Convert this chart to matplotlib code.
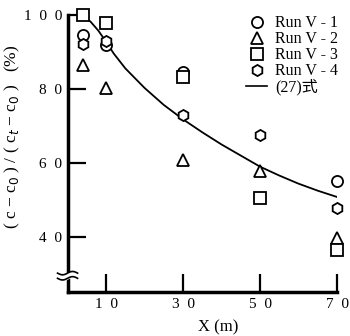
import matplotlib
matplotlib.use('Agg')
import matplotlib.pyplot as plt
import numpy as np
from matplotlib.lines import Line2D

plt.rcParams['font.family'] = ['Liberation Serif', 'DejaVu Serif', 'Noto Sans CJK JP']

# データ
run1_x = [4, 10, 30, 70]
run1_y = [94.5, 91.8, 84.5, 55.1]
run2_x = [4, 10, 30, 50, 70]
run2_y = [86.5, 80.3, 60.8, 57.8, 39.7]
run3_x = [4, 10, 30, 50, 70]
run3_y = [100, 98, 83.3, 50.5, 36.5]
run4_x = [4, 10, 30, 50, 70]
run4_y = [92.3, 93.0, 73.0, 67.6, 47.8]

# (27)式 の曲線
curve_x = [4, 6, 8, 10, 12, 15, 20, 25, 30, 35, 40, 45, 50, 55, 60, 65, 70]
curve_y = [100, 98.2, 95.8, 92.8, 89.6, 85.6, 80.3, 75.7, 71.8, 68.3, 65.0, 62.0, 59.0, 56.6, 54.4, 52.5, 50.8]

xticks = [10, 30, 50, 70]
xticklabels = ['1  0', '3  0', '5  0', '7  0']
yticks = [40, 60, 80, 100]
yticklabels = ['4  0', '6  0', '8  0', '1  0  0']

labels = ['Run V - 1', 'Run V - 2', 'Run V - 3', 'Run V - 4', '(27)式']

fig = plt.figure(figsize=(3.5, 3.36), dpi=100)
ax = fig.add_axes([0.193, 0.131, 0.770, 0.824])

ax.plot(curve_x, curve_y, color='black', lw=1.3, zorder=2)

mk = dict(ms=8, mfc='white', mec='black', mew=1.3, ls='none', zorder=3, clip_on=False)
ax.plot(run1_x, run1_y, marker='o', **mk)
ax.plot(run2_x, run2_y, marker='^', **mk)
ax.plot(run3_x, run3_y, marker='s', **mk)
ax.plot(run4_x, run4_y, marker='h', **mk)

ax.set_xlim(0, 70)
ax.set_ylim(25.1, 100)
for s in ['top', 'right']:
    ax.spines[s].set_visible(False)
for s in ['left', 'bottom']:
    ax.spines[s].set_linewidth(2.5)

ax.set_xticks(xticks)
ax.set_xticklabels(xticklabels)
ax.set_yticks(yticks)
ax.set_yticklabels(yticklabels)
ax.tick_params(direction='in', length=13, width=1.6, labelsize=11, pad=4)

ax.set_xlabel('X (m)', fontsize=12, labelpad=2)
ax.xaxis.set_label_coords(0.56, -0.1)
ax.set_ylabel('( c − c$_0$ ) / ( c$_t$ − c$_0$ )   (%)', fontsize=12.5)
ax.yaxis.set_label_coords(-0.17, 0.56)

# 軸の省略記号
wx = np.linspace(-2.6, 2.6, 30)
wave = 0.45 * np.sin(wx / 2.6 * np.pi)
ax.fill_between(wx, 28.8 + wave, 30.2 + wave, color='white', zorder=5, clip_on=False)
ax.plot(wx, 28.8 + wave, color='black', lw=1.2, zorder=6, clip_on=False)
ax.plot(wx, 30.2 + wave, color='black', lw=1.2, zorder=6, clip_on=False)

# 凡例
handles = [
    Line2D([], [], marker='o', ls='none', ms=8, mfc='white', mec='black', mew=1.3),
    Line2D([], [], marker='^', ls='none', ms=8, mfc='white', mec='black', mew=1.3),
    Line2D([], [], marker='s', ls='none', ms=8, mfc='white', mec='black', mew=1.3),
    Line2D([], [], marker='h', ls='none', ms=8, mfc='white', mec='black', mew=1.3),
    Line2D([], [], color='black', lw=1.2),
]
fig.legend(handles, labels, loc='upper left', bbox_to_anchor=(0.704, 0.955),
           frameon=False, fontsize=11.5, borderpad=0, borderaxespad=0,
           labelspacing=0.0, handlelength=1.3, handletextpad=0.5)

fig.savefig('out.png', dpi=100)
